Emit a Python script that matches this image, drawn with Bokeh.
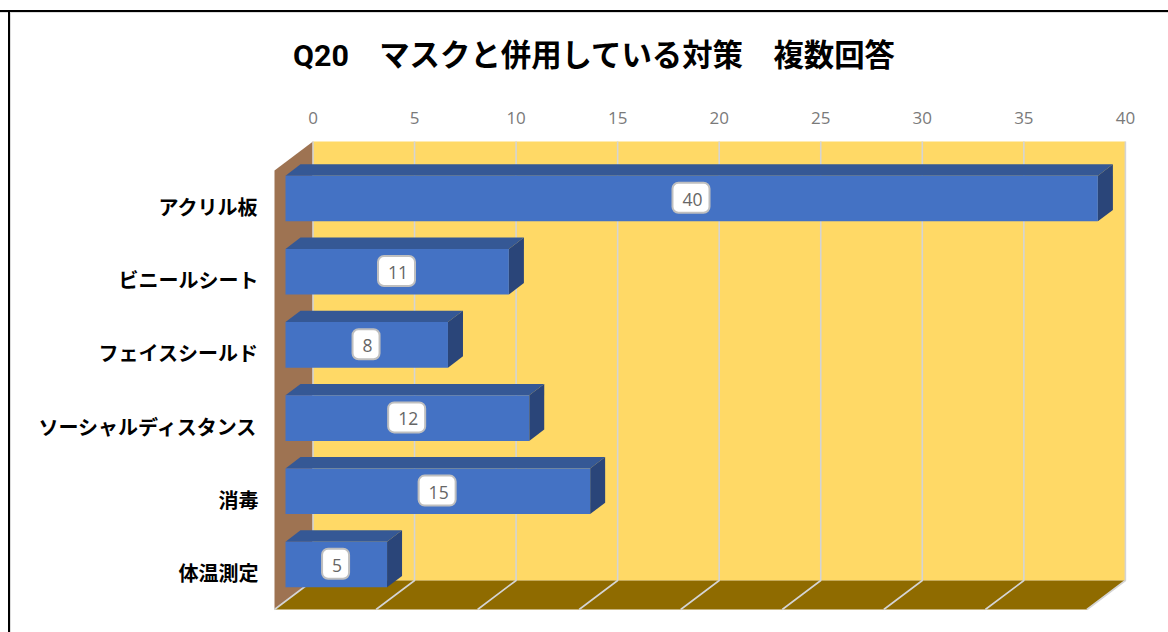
from bokeh.embed import file_html
from bokeh.models import ColumnDataSource, FixedTicker, LinearAxis, Range1d, Title
from bokeh.plotting import figure
from bokeh.resources import INLINE
from bokeh.core.properties import value

# Survey results
categories = ["アクリル板", "ビニールシート", "フェイスシールド", "ソーシャルディスタンス", "消毒", "体温測定"]
counts = [40, 11, 8, 12, 15, 5]
x_ticks = [0, 5, 10, 15, 20, 25, 30, 35, 40]
chart_title = "Q20　マスクと併用している対策　複数回答"

# Page and plotting frame, in pixels
W, H = 1168, 632
FRAME_L, FRAME_R, FRAME_T, FRAME_B = 268, 1132, 130, 616

# Pixel size of one data unit on each axis
PX_X = 20.31
PX_Y = 73.2
# Where value 0 and the first category fall on the page
X0_PX, Y0_PX = 312.5, 206.0

dx = lambda px: px / PX_X
dy = lambda px: px / PX_Y

x_range = Range1d((FRAME_L - X0_PX) / PX_X, (FRAME_R - X0_PX) / PX_X)
y_range = Range1d((FRAME_B - Y0_PX) / PX_Y, (FRAME_T - Y0_PX) / PX_Y)

# The outer rule of the chart area shows through the transparent canvas
rule = ("linear-gradient(#000,#000) 0 10px / 100% 2px no-repeat,"
        "linear-gradient(#000,#000) 8px 10px / 2px 100% no-repeat,"
        "linear-gradient(#dcdcdc,#dcdcdc) 0 12px / 100% 1px no-repeat,"
        "linear-gradient(#dcdcdc,#dcdcdc) 10px 12px / 1px 100% no-repeat,"
        "#fff")

p = figure(width=W, height=H, x_range=x_range, y_range=y_range,
           output_backend="svg", toolbar_location=None,
           x_axis_location=None, y_axis_location=None,
           min_border_left=FRAME_L, min_border_right=W - FRAME_R,
           min_border_top=FRAME_T, min_border_bottom=H - FRAME_B,
           outline_line_color=None, background_fill_color=None,
           border_fill_color=None, styles={"background": rule})
p.grid.visible = False

# Chart box extents, in data units
top = dy(141 - Y0_PX)
bottom = dy(580 - Y0_PX)
depth_x = dx(-38.5)
depth_y = dy(29)
xmax = max(x_ticks)

# Back wall, side wall and floor of the 3D box
p.quad(left=0, right=xmax, top=top, bottom=bottom, fill_color="#ffd966", line_color=None)
p.patch([0, depth_x, depth_x, 0], [top, top + depth_y, bottom + depth_y, bottom],
        fill_color="#9e7352", line_color=None)
p.patch([0, xmax, xmax + depth_x, depth_x], [bottom, bottom, bottom + depth_y, bottom + depth_y],
        fill_color="#8f6b00", line_color=None)

# Gridlines run up the back wall and forward across the floor
grid_color = "#d4d4d4"
for t in x_ticks:
    p.line([t, t, t + depth_x], [top, bottom, bottom + depth_y], line_color=grid_color, line_width=1.6)

# Bars: front, top and end faces
front_x0 = dx(285 - X0_PX)
face_dx = dx(15)
face_dy = dy(-11.4)
half = dy(45.6) / 2
centre_shift = dy(-8)
label_shift = dx(-0.7)
label_lift = dy(-0.7)

fronts = dict(l=[], r=[], t=[], b=[])
tops_x, tops_y, ends_x, ends_y = [], [], [], []
centres_x, centres_y = [], []
for i, v in enumerate(counts):
    c = i + centre_shift
    r = front_x0 + v
    fronts["l"].append(front_x0)
    fronts["r"].append(r)
    fronts["t"].append(c - half)
    fronts["b"].append(c + half)
    tops_x.append([front_x0, r, r + face_dx, front_x0 + face_dx])
    tops_y.append([c - half, c - half, c - half + face_dy, c - half + face_dy])
    ends_x.append([r, r + face_dx, r + face_dx, r])
    ends_y.append([c - half, c - half + face_dy, c + half + face_dy, c + half])
    centres_x.append(front_x0 + v / 2 + label_shift)
    centres_y.append(c + label_lift)

p.patches(tops_x, tops_y, fill_color="#355895", line_color=None)
p.patches(ends_x, ends_y, fill_color="#2a4579", line_color=None)
p.quad(left="l", right="r", top="t", bottom="b", source=ColumnDataSource(fronts),
       fill_color="#4472c4", line_color=None)

# Value labels in rounded white boxes
p.text(centres_x, centres_y, text=[str(v) for v in counts],
       text_align="center", text_baseline="middle",
       text_font=value("Open Sans"), text_font_size="17.5px", text_color="#666666",
       background_fill_color="white", border_line_color="#bfbfbf", border_line_width=2,
       padding=[10, 7, 10, 7], border_radius=6)

# Value axis along the top
top_axis = LinearAxis(ticker=FixedTicker(ticks=x_ticks))
top_axis.axis_line_color = None
top_axis.major_tick_line_color = None
top_axis.minor_tick_line_color = None
top_axis.major_label_standoff = 1
top_axis.major_label_text_color = "#7a7a7a"
top_axis.major_label_text_font = "Open Sans"
top_axis.major_label_text_font_size = "17px"
p.add_layout(top_axis, "above")

# Category axis on the left
left_axis = LinearAxis(ticker=FixedTicker(ticks=list(range(len(categories)))),
                       major_label_overrides={i: c for i, c in enumerate(categories)})
left_axis.axis_line_color = None
left_axis.major_tick_line_color = None
left_axis.minor_tick_line_color = None
left_axis.major_label_standoff = 4
left_axis.major_label_text_color = "black"
left_axis.major_label_text_font = "Noto Sans CJK JP"
left_axis.major_label_text_font_style = "bold"
left_axis.major_label_text_font_size = "20px"
p.add_layout(left_axis, "left")

# Chart title
title = Title(text=chart_title, align="left", offset=292.5 - FRAME_L, standoff=68,
              vertical_align="top", text_font="Roboto, 'Noto Sans CJK JP'",
              text_font_size="30.4px", text_font_style="bold", text_color="black")
p.add_layout(title, "above")

open("out.html", "w").write(file_html(p, INLINE))
